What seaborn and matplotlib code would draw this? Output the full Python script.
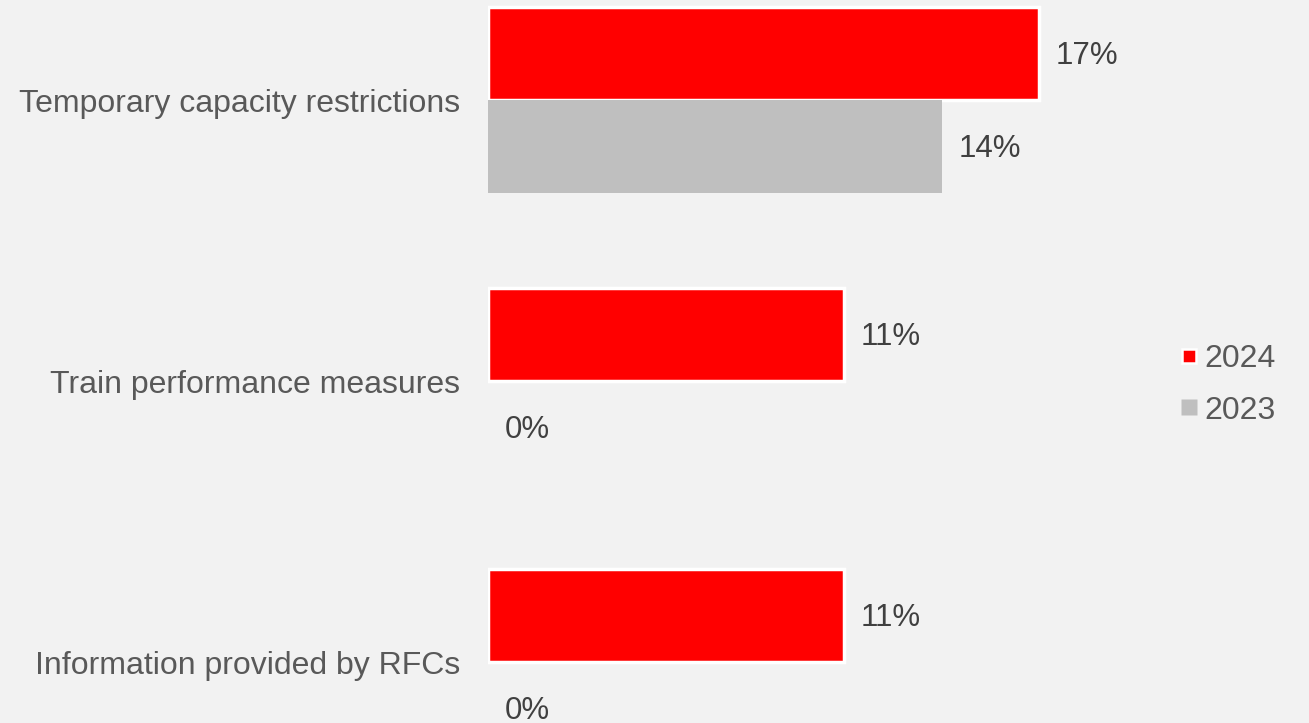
import matplotlib
matplotlib.use("Agg")
import matplotlib.pyplot as plt
from matplotlib.lines import Line2D
import seaborn as sns
import pandas as pd

categories = ["Temporary capacity restrictions", "Train performance measures",
              "Information provided by RFCs"]
years = ["2024", "2023"]
values_2024 = [17, 11, 11]
values_2023 = [14, 0, 0]

RED = "#FF0000"
GREY = "#BFBFBF"
BG = "#F2F2F2"
LABEL_COLOR = "#595959"
VALUE_COLOR = "#404040"

df = pd.DataFrame({
    "category": categories * 2,
    "year": [years[0]] * 3 + [years[1]] * 3,
    "value": values_2024 + values_2023,
})

sns.set_theme(style="white")
plt.rcParams["font.family"] = ["Liberation Sans", "DejaVu Sans"]

W, H = 1309, 723
fig = plt.figure(figsize=(W / 100, H / 100), dpi=100, facecolor=BG)
ax_left = 488 / W
ax_width = 648 / W
ax = fig.add_axes([ax_left, 0.0, ax_width, 1.0])
ax.set_facecolor(BG)

sns.barplot(data=df, y="category", x="value", hue="year", order=categories,
            hue_order=years, palette=[RED, GREY], width=0.662, orient="h",
            saturation=1, ax=ax, legend=False)

# white outline around the 2024 bars only
for patch in ax.containers[0]:
    patch.set_edgecolor("white")
    patch.set_linewidth(2.5)
for patch in ax.containers[1]:
    patch.set_edgecolor("none")

for cont, vals in zip(ax.containers, [values_2024, values_2023]):
    anns = ax.bar_label(cont, labels=[f"{v}%" for v in vals], padding=13,
                        fontsize=22.5, color=VALUE_COLOR)
    for a in anns:
        a.xyann = (12, -2)

ax.set_xlim(0, 20)
ax.set_ylim(2.217, -0.356)
ax.set_xlabel("")
ax.set_ylabel("")
ax.set_xticks([])
ax.tick_params(axis="y", length=0, pad=20, labelsize=23, labelcolor=LABEL_COLOR)
for s in ax.spines.values():
    s.set_visible(False)

handles = [
    Line2D([], [], linestyle="none", marker="s", markersize=10,
           markerfacecolor=RED, markeredgecolor="white", markeredgewidth=1.8),
    Line2D([], [], linestyle="none", marker="s", markersize=11,
           markerfacecolor=GREY, markeredgecolor="none"),
]
leg = fig.legend(handles, years, loc="center left",
                 bbox_to_anchor=(1164 / W, 1 - 385 / H), frameon=False,
                 fontsize=23, labelcolor=LABEL_COLOR, handlelength=0.55,
                 handletextpad=0.2, labelspacing=0.66, borderpad=0)

fig.savefig("out.png", dpi=100, facecolor=BG)
